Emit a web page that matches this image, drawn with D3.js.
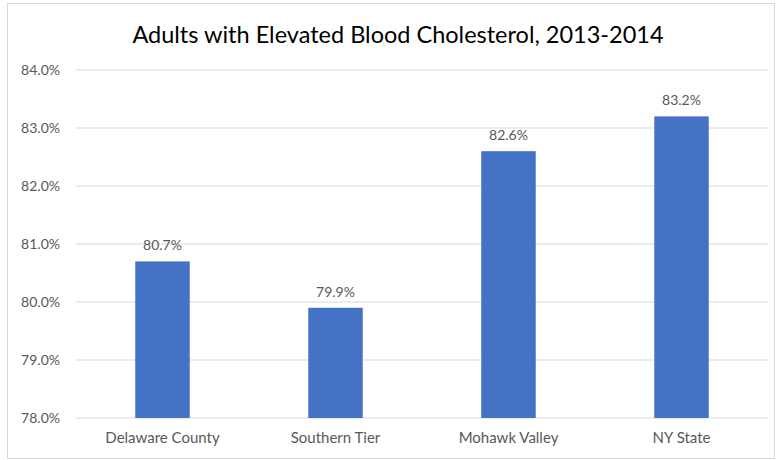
<!DOCTYPE html>
<html>
<head>
<meta charset="utf-8">
<script src="https://cdn.jsdelivr.net/npm/d3@7"></script>
<style>
  body { margin: 0; background: #fff; }
  text { font-family: Lato, "Open Sans", sans-serif; }
</style>
</head>
<body>
<div id="chart"></div>
<script>
var regions = ["Delaware County", "Southern Tier", "Mohawk Valley", "NY State"];
var cholesterol = [80.7, 79.9, 82.6, 83.2];
var yTicks = [78, 79, 80, 81, 82, 83, 84];

var margin = {top: 70, right: 10, bottom: 42, left: 76},
    fullwidth = 778,
    fullheight = 460,
    width = fullwidth - margin.left - margin.right,
    height = fullheight - margin.top - margin.bottom;

var svg = d3.select("#chart")
    .append("svg")
    .attr("width", fullwidth)
    .attr("height", fullheight);

// chart border
svg.append("rect")
    .attr("x", 7.5).attr("y", 3.5)
    .attr("width", 767).attr("height", 455)
    .style("fill", "none")
    .style("stroke", "#d9d9d9");

svg.append("text")
    .attr("x", 398).attr("y", 43)
    .style("text-anchor", "middle")
    .style("font-size", "23.5px")
    .style("fill", "#000")
    .text("Adults with Elevated Blood Cholesterol, 2013-2014");

var g = svg.append("g")
    .attr("transform", "translate(" + margin.left + "," + margin.top + ")");

var xScale = d3.scaleBand()
    .domain(regions)
    .range([0, width])
    .paddingInner(0.685)
    .paddingOuter(0.3425);

var yScale = d3.scaleLinear()
    .domain([78, 84])
    .range([height, 0]);

// gridlines
g.append("g")
    .selectAll("line")
    .data(yTicks)
    .enter().append("line")
    .attr("x1", 0).attr("x2", width)
    .attr("y1", function(d) { return yScale(d); })
    .attr("y2", function(d) { return yScale(d); })
    .style("stroke", "#d9d9d9")
    .style("stroke-width", 1);

var yAxis = d3.axisLeft(yScale)
    .tickValues(yTicks)
    .tickSize(0)
    .tickPadding(16)
    .tickFormat(function(d) { return d.toFixed(1) + "%"; });

var yAxisEle = g.append("g").call(yAxis);
yAxisEle.select(".domain").remove();
yAxisEle.selectAll("text")
    .style("font-size", "14px")
    .style("fill", "#595959")
    .style("font-family", "Lato, 'Open Sans', sans-serif");

var xAxis = d3.axisBottom(xScale).tickSize(0).tickPadding(14);
var xAxisEle = g.append("g")
    .attr("transform", "translate(0," + height + ")")
    .call(xAxis);
xAxisEle.select(".domain").remove();
xAxisEle.selectAll("text")
    .style("font-size", "15px")
    .style("fill", "#595959")
    .style("font-family", "Lato, 'Open Sans', sans-serif");

g.selectAll("rect.bar")
    .data(cholesterol)
    .enter().append("rect")
    .classed("bar", true)
    .attr("x", function(d, i) { return xScale(regions[i]); })
    .attr("width", xScale.bandwidth())
    .attr("y", function(d) { return yScale(d); })
    .attr("height", function(d) { return height - yScale(d); })
    .style("fill", "#4472c4");

g.selectAll("text.label")
    .data(cholesterol)
    .enter().append("text")
    .classed("label", true)
    .attr("x", function(d, i) { return xScale(regions[i]) + xScale.bandwidth() / 2; })
    .attr("y", function(d) { return yScale(d) - 11; })
    .style("text-anchor", "middle")
    .style("font-size", "14px")
    .style("fill", "#595959")
    .text(function(d) { return d.toFixed(1) + "%"; });
</script>
</body>
</html>
